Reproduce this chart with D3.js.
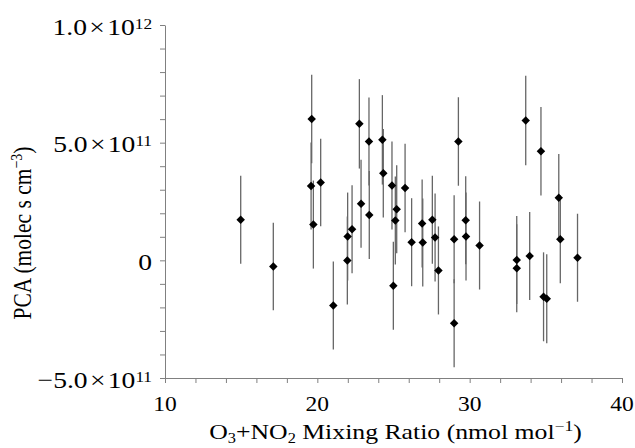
<!DOCTYPE html>
<html lang="en">
<head>
  <meta charset="UTF-8">
  <title>PCA vs O3+NO2</title>
  <style>
    body { margin: 0; background: #fff; }
    svg { display: block; }
    text { font-family: "Liberation Serif", "Times New Roman", serif; fill: #000; }
  </style>
</head>
<body>
  <svg id="chart" width="635" height="448"></svg>
  <script src="https://d3js.org/d3.v7.min.js"></script>
  <script>
    // O3+NO2 mixing ratio (nmol/mol)
    const mixing = [14.97, 17.11, 19.59, 19.63, 19.74, 20.22, 21.05, 21.97, 21.99, 22.28,
      22.76, 22.87, 23.39, 23.41, 24.27, 24.33, 24.90, 24.99, 25.12, 25.21,
      25.76, 26.19, 26.88, 26.92, 27.55, 27.73, 27.95, 28.98, 28.98, 29.26,
      29.74, 29.76, 30.65, 33.09, 33.09, 33.68, 33.94, 34.68, 34.85, 35.06,
      35.85, 35.95, 37.08]
    // PCA (units of 1e11 molec s cm-3)
    const pca = [1.72, -0.26, 3.16, 6.01, 1.52, 3.31, -1.92, -0.01, 1.01, 1.32,
      5.80, 2.40, 5.05, 1.93, 5.12, 3.70, 3.18, -1.08, 1.69, 2.17,
      3.07, 0.77, 1.57, 0.76, 1.72, 0.97, -0.43, 0.90, -2.67, 5.05,
      1.70, 1.01, 0.63, 0.01, -0.34, 5.94, 0.18, 4.64, -1.55, -1.63,
      2.66, 0.90, 0.11]
    // error bar half-width (same units)
    const pcaErr = [1.87, 1.86, 1.85, 1.88, 1.87, 1.86, 1.87, 1.87, 1.87, 1.87,
      1.90, 1.87, 1.87, 1.87, 1.90, 1.88, 1.87, 1.87, 1.87, 1.87,
      1.88, 1.87, 1.87, 1.87, 1.87, 1.87, 1.87, 1.87, 1.87, 1.88,
      1.87, 1.87, 1.87, 1.87, 1.87, 1.90, 1.87, 1.88, 1.89, 1.89,
      1.86, 1.87, 1.87]

    const xTicks = [10, 20, 30, 40]
    const yTicks = [-5e11, 0, 5e11, 1e12]
    const yTickLabels = [['\u22125.0', '11'], ['0', null], ['5.0', '11'], ['1.0', '12']]

    const svg = d3.select('#chart')

    const x = d3.scaleLinear().domain([10, 40]).range([165, 622])
    const y = d3.scaleLinear().domain([-5e11, 1e12]).range([378, 25])

    const data = mixing.map((m, i) => ({ x: m, y: pca[i] * 1e11, e: pcaErr[i] * 1e11 }))

    // x axis (minor ticks every 2)
    svg.append('g')
      .attr('transform', `translate(0, ${y(-5e11)})`)
      .call(d3.axisBottom(x)
        .tickValues(d3.range(10, 40.01, 2))
        .tickSize(5)
        .tickSizeOuter(0)
        .tickFormat(''))

    // y axis (minor ticks every 1e11)
    svg.append('g')
      .attr('transform', `translate(${x(10)}, 0)`)
      .call(d3.axisLeft(y)
        .tickValues(d3.range(-5, 10.01, 1).map(v => v * 1e11))
        .tickSize(5)
        .tickSizeOuter(0)
        .tickFormat(''))

    svg.selectAll('.domain, .tick line')
      .attr('stroke', '#808080')
      .attr('stroke-width', 1)

    // x tick labels (type in the source is a little wide)
    svg.append('g')
      .selectAll('text')
      .data(xTicks)
      .join('text')
      .attr('transform', d => `translate(${x(d)}, 411) scale(1.12, 1)`)
      .attr('text-anchor', 'middle')
      .style('font-size', '21px')
      .text(d => d)

    // y tick labels with exponent
    yTicks.forEach((v, i) => {
      const [mant, exp] = yTickLabels[i]
      const t = svg.append('text')
        .attr('transform', `translate(${x(10) - 13}, ${y(v) + 9.5}) scale(1.15, 1)`)
        .attr('text-anchor', 'end')
        .style('font-size', '24px')
      t.append('tspan').text(mant)
      if (exp) {
        t.append('tspan').attr('dx', 2).text('\u00d7')
        t.append('tspan').attr('dx', 2).text('10')
        t.append('tspan').attr('dy', -6).style('font-size', '15px').text(exp)
      }
    })

    // error bars
    svg.append('g')
      .selectAll('line')
      .data(data)
      .join('line')
      .attr('x1', d => x(d.x))
      .attr('x2', d => x(d.x))
      .attr('y1', d => y(d.y - d.e))
      .attr('y2', d => y(d.y + d.e))
      .attr('stroke', '#666')
      .attr('stroke-width', 1.3)

    // diamond markers
    const diamond = d3.symbol().type(d3.symbolSquare).size(36)
    svg.append('g')
      .selectAll('path')
      .data(data)
      .join('path')
      .attr('d', diamond)
      .attr('transform', d => `translate(${x(d.x)}, ${y(d.y)}) rotate(45)`)
      .attr('fill', '#000')

    // axis titles
    const xt = svg.append('text')
      .attr('transform', `translate(${(x(10) + x(40)) / 2 + 2}, 439) scale(1.17, 1)`)
      .attr('text-anchor', 'middle')
      .style('font-size', '22px')
    xt.append('tspan').text('O')
    xt.append('tspan').attr('dy', 4).style('font-size', '14px').text('3')
    xt.append('tspan').attr('dy', -4).text('+NO')
    xt.append('tspan').attr('dy', 4).style('font-size', '14px').text('2')
    xt.append('tspan').attr('dy', -4).text(' Mixing Ratio (nmol mol')
    xt.append('tspan').attr('dy', -8).style('font-size', '15px').text('\u22121')
    xt.append('tspan').attr('dy', 8).text(')')

    const yt = svg.append('text')
      .attr('transform', `translate(31, 233) rotate(-90) scale(1, 1.18)`)
      .attr('text-anchor', 'middle')
      .style('font-size', '21.5px')
    yt.append('tspan').text('PCA (molec s cm')
    yt.append('tspan').attr('dy', -8).style('font-size', '14px').text('\u22123')
    yt.append('tspan').attr('dy', 8).text(')')
  </script>
</body>
</html>
